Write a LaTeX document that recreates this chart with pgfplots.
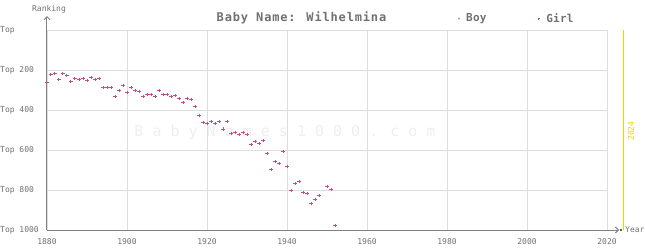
\documentclass[border=0pt]{standalone}
\usepackage{fontspec}
\setmainfont{DejaVu Sans Mono}
\usepackage{pgfplots}
\pgfplotsset{compat=1.18}
\usetikzlibrary{arrows.meta}
\definecolor{girlc}{HTML}{C0507F}
\definecolor{boyc}{HTML}{8A9AC0}
\definecolor{gridc}{HTML}{DDDDDD}
\definecolor{axisc}{HTML}{808080}
\definecolor{textc}{HTML}{707070}
\definecolor{yellowc}{HTML}{EED400}
\definecolor{wmc}{HTML}{EEEEEE}
\begin{document}
\begin{tikzpicture}[x=1pt,y=1pt]
\useasboundingbox (0,0) rectangle (645,250);
\node[text=wmc, font=\fontsize{15}{16}\selectfont] at (285,118) {B a b y N a m e s 1 0 0 0 . c o m};
\begin{axis}[
  at={(47pt,20pt)}, anchor=south west, scale only axis,
  width=560pt, height=200pt,
  xmin=1880, xmax=2020, ymin=0, ymax=1000, y dir=reverse,
  clip=false,
  xtick={1880,1900,...,2020},
  ytick={0,200,400,600,800,1000},
  yticklabels={Top,Top 200,Top 400,Top 600,Top 800,Top 1000},
  /pgf/number format/assume math mode=true,
  /pgf/number format/1000 sep={},
  xticklabel style={font=\fontsize{8}{9}\selectfont, text=textc, yshift=-5pt},
  yticklabel style={anchor=west, xshift=-47pt, inner sep=0pt, font=\fontsize{8}{9}\selectfont, text=textc},
  grid=major, grid style={draw=gridc, line width=0.8pt},
  axis line style={draw=none}, major tick length=0pt,
  legend columns=2,
  legend image code/.code={\draw[#1] plot coordinates {(0pt,0pt)};},
  legend style={draw=none, fill=none, at={(0.7340,1.057)}, anchor=west, inner sep=0pt,
    nodes={inner sep=0pt, font=\bfseries\fontsize{11}{12}\selectfont\addfontfeatures{LetterSpace=2.5}, text=textc},
    /tikz/every odd column/.style={column sep=6.5pt},
    /tikz/every even column/.style={column sep=51pt}},
]
\addlegendimage{only marks, mark=x, mark size=1pt, line width=0.6pt, color=boyc}
\addlegendentry{Boy}
\addplot[only marks, mark=+, mark size=1.6pt, line width=1pt, color=girlc,
  legend image post style={mark size=1.1pt, line width=0.7pt}] coordinates {
(1880,262) (1881,222) (1882,217) (1883,247) (1884,217) (1885,227) (1886,257) (1887,242)
(1888,247) (1889,242) (1890,252) (1891,237) (1892,247) (1893,242) (1894,287) (1895,287)
(1896,287) (1897,332) (1898,302) (1899,277) (1900,312) (1901,287) (1902,302) (1903,307)
(1904,332) (1905,322) (1906,322) (1907,332) (1908,302) (1909,322) (1910,322) (1911,332)
(1912,327) (1913,342) (1914,362) (1915,342) (1916,347) (1917,382) (1918,427) (1919,462)
(1920,467) (1921,457) (1922,467) (1923,457) (1924,495) (1925,457) (1926,517) (1927,512)
(1928,522) (1929,512) (1930,522) (1931,572) (1932,557) (1933,567) (1934,552) (1935,617)
(1936,697) (1937,657) (1938,667) (1939,607) (1940,682) (1941,802) (1942,767) (1943,757)
(1944,812) (1945,817) (1946,867) (1947,847) (1948,827) (1950,782) (1951,797) (1952,977)
};
\addlegendentry{Girl}
\draw[axisc, line width=1pt, -{Straight Barb[length=3pt,width=6pt]}] (axis cs:1880,1000) -- (axis cs:1880,-70);
\draw[axisc, line width=1pt, -{Straight Barb[length=3pt,width=6pt]}] (axis cs:1880,1000) -- (axis cs:2023,1000);
\fill[axisc!70!black] ([xshift=-1pt,yshift=-1pt]axis cs:2023.5,1000) rectangle ([xshift=1pt,yshift=1pt]axis cs:2023.5,1000);
\draw[yellowc, line width=1pt] (axis cs:2024,0) -- (axis cs:2024,1000);
\node[rotate=90, text=yellowc, font=\fontsize{8}{9}\selectfont] at (axis cs:2026,505) {2024};
\end{axis}
\node[text=textc, font=\fontsize{8}{9}\selectfont] at (49,241) {Ranking};
\node[text=textc, font=\fontsize{8}{9}\selectfont, anchor=west, inner sep=0pt] at (625,20) {Year};
\node[text=textc, font=\bfseries\fontsize{12}{13}\selectfont\addfontfeatures{LetterSpace=7}] at (301.5,232.5) {Baby Name: Wilhelmina};
\end{tikzpicture}
\end{document}
